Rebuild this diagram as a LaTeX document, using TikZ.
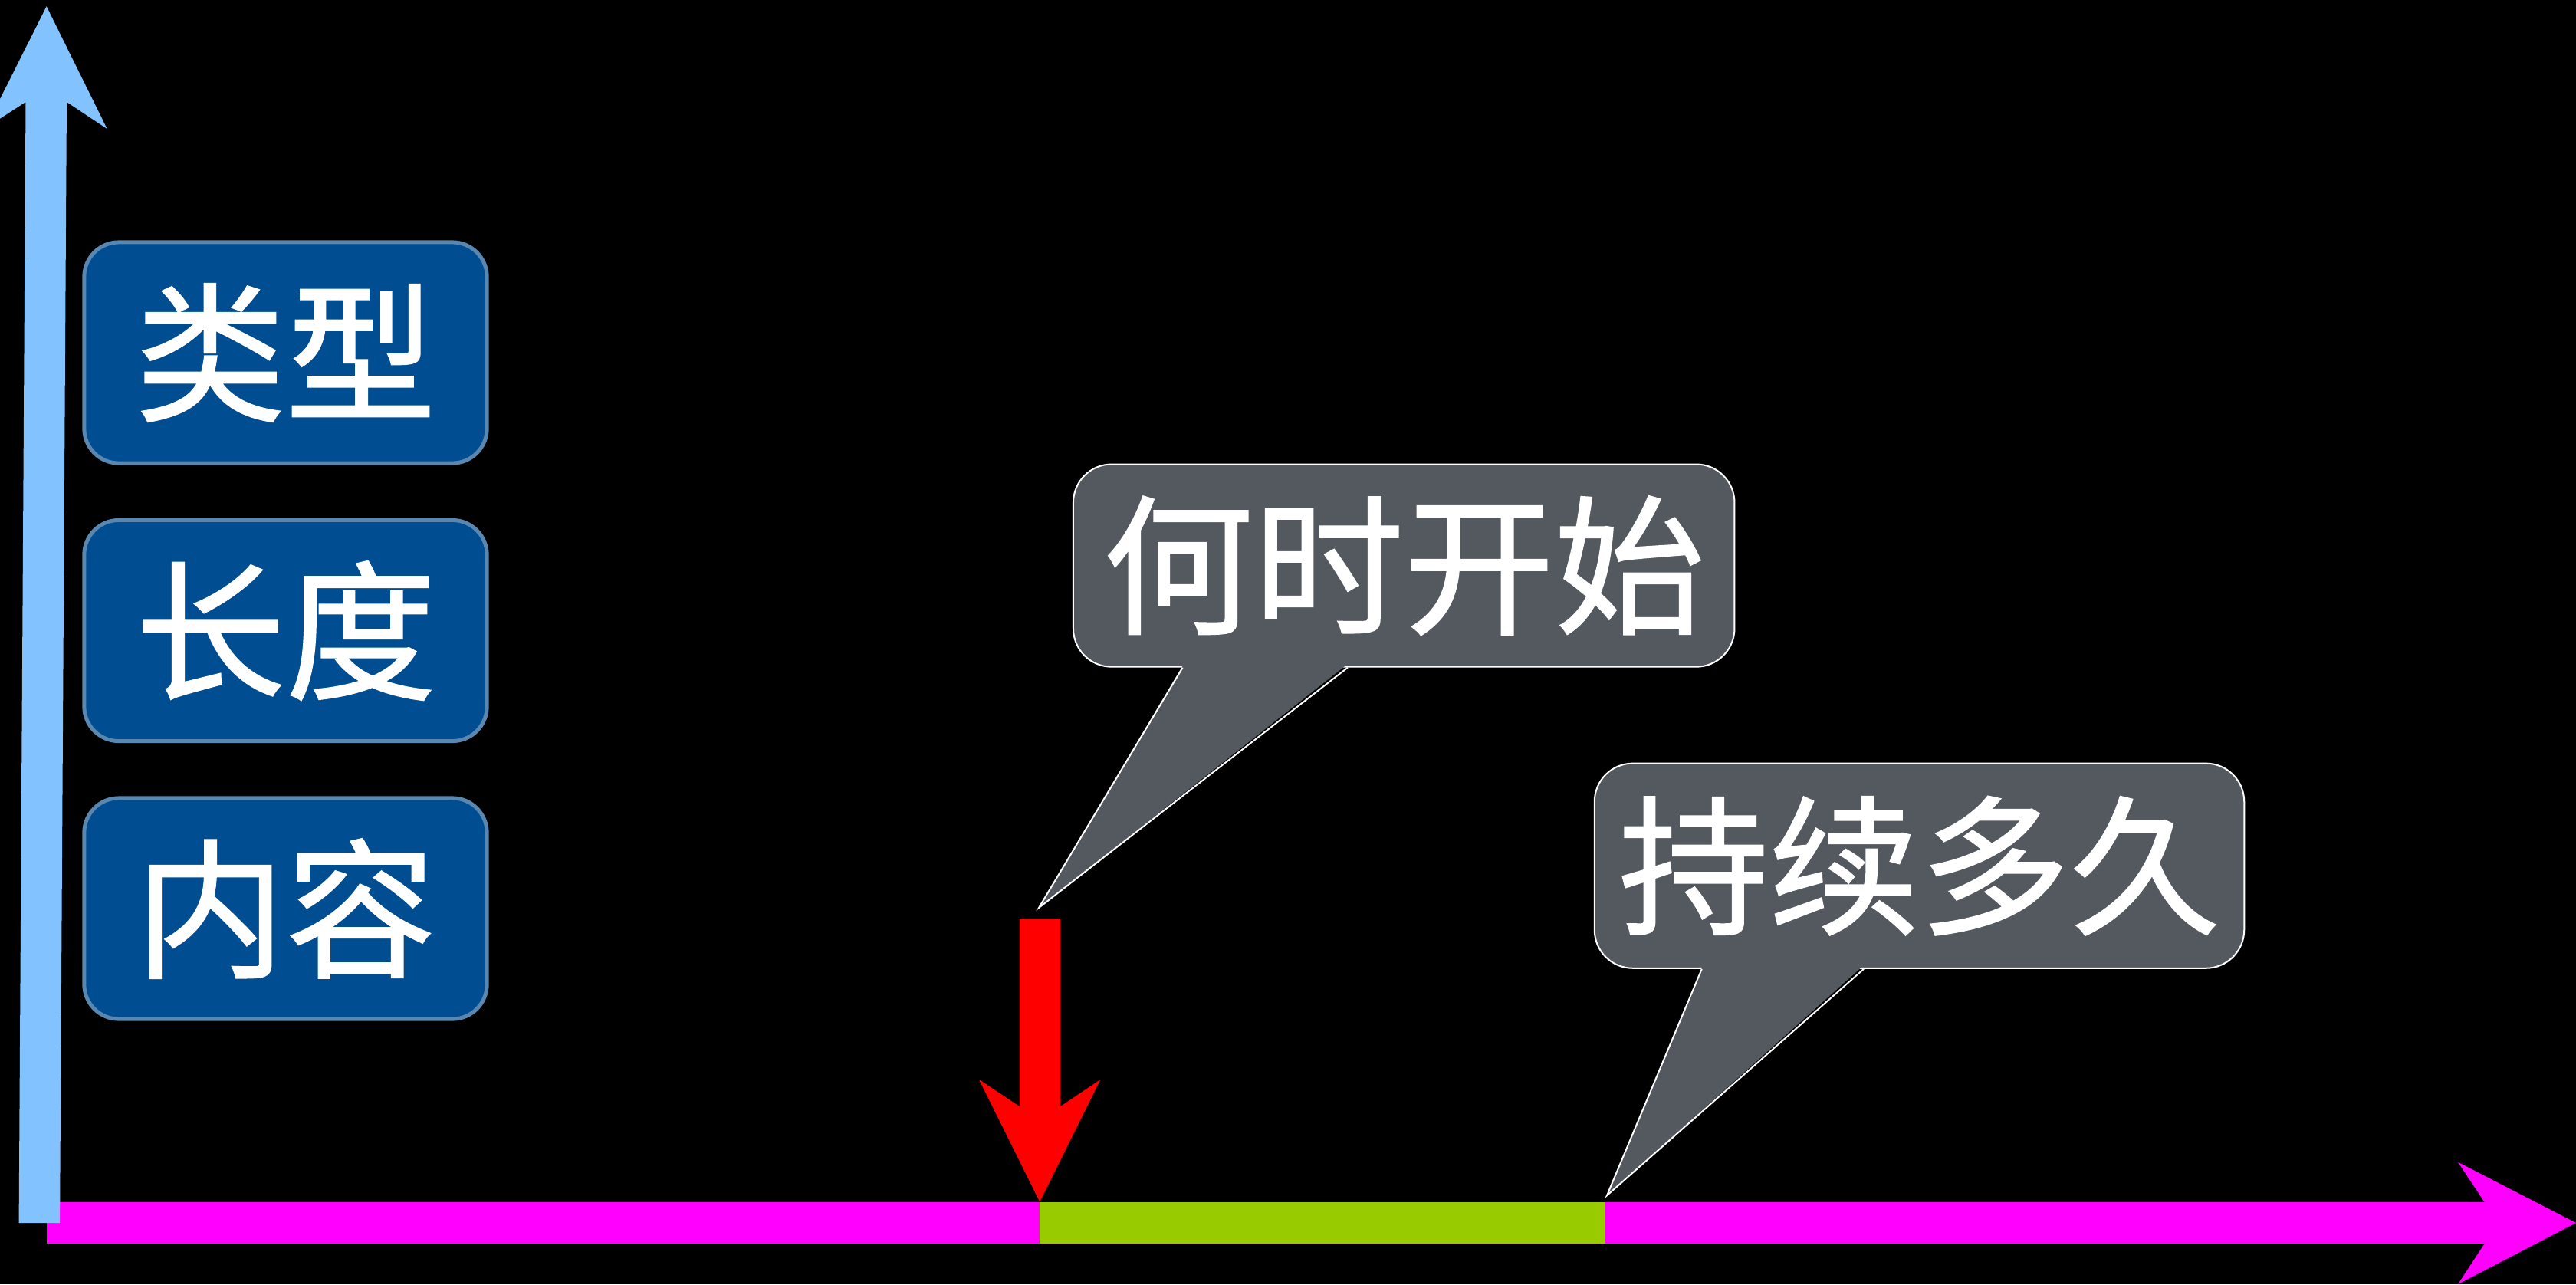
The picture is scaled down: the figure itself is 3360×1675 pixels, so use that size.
\documentclass[tikz,border=0pt]{standalone}
\usepackage{fontspec}
\newfontfamily\cjk[FakeBold=1]{Noto Sans CJK SC}
\usetikzlibrary{calc}
\definecolor{axisblue}{RGB}{130,195,255}
\definecolor{boxblue}{RGB}{0,78,145}
\definecolor{boxedge}{RGB}{90,135,175}
\definecolor{callgray}{RGB}{84,89,96}
\definecolor{barmag}{RGB}{255,0,255}
\definecolor{bargreen}{RGB}{153,204,0}
\definecolor{arrowred}{RGB}{255,0,0}
\begin{document}
\begin{tikzpicture}[x=0.01cm,y=-0.01cm,
  labeltext/.style={text=white,font=\cjk\fontsize{55.8pt}{60pt}\selectfont,inner sep=0pt},
  bluebox/.style={labeltext,fill=boxblue,draw=boxedge,line width=0.05cm,rounded corners=0.45cm,minimum width=5.25cm,minimum height=2.88cm},
  callbox/.style={labeltext,fill=callgray,draw=white,line width=0.02cm,rounded corners=0.5cm},
  pointerfill/.style={fill=callgray},
  pointeredge/.style={draw=white,line width=0.02cm,line join=miter}
]
\useasboundingbox[fill=black] (0,0) rectangle (3360,1675);

% horizontal time axis (magenta block arrow)
\coordinate (hstart) at (61,1595);
\coordinate (htip) at (3360,1595);
\fill[barmag] (61,1568) -- (3240.7,1568) -- (3206,1515.7) -- (htip) -- (3206,1675) -- (3240.7,1622) -- (61,1622) -- cycle;

% green duration segment
\fill[bargreen] (1356.2,1567.5) rectangle (2093.9,1621.5);

% vertical axis (light blue block arrow)
\coordinate (vtip) at (60.7,8.3);
\fill[axisblue] (24.6,1595) -- (78.1,1595) -- (87,133) -- (139.7,168) -- (vtip) -- (-19,167) -- (33.5,133) -- cycle;

% red start arrow
\coordinate (rtip) at (1356.2,1567.5);
\fill[arrowred] (1329.8,1198.3) -- (1383.2,1198.3) -- (1383.2,1443) -- (1435.4,1408) -- (rtip) -- (1277,1408) -- (1329.8,1443) -- cycle;

% blue label boxes
\node[bluebox] (type) at (372.5,460) {类型};
\node[bluebox] (length) at (372.5,822.5) {长度};
\node[bluebox] (content) at (372.5,1185) {内容};

% callout 1
\node[callbox,minimum width=8.62cm,minimum height=2.64cm] (start) at (1831.2,737.6) {何时开始};
\coordinate (starttip) at (1355,1184);
\coordinate (s1) at ($(start.south west)+(143.6,0)$);
\coordinate (s2) at ($(start.south west)+(358.9,0)$);
\fill[pointerfill] ($(s1)+(1,-4)$) -- (starttip) -- ($(s2)+(-1,-4)$) -- cycle;
\draw[pointeredge] (s1) -- (starttip) -- (s2);

% callout 2
\node[callbox,minimum width=8.47cm,minimum height=2.67cm] (dur) at (2503.5,1129.2) {持续多久};
\coordinate (durtip) at (2096,1559.2);
\coordinate (d1) at ($(dur.south west)+(141,0)$);
\coordinate (d2) at ($(dur.south west)+(352.3,0)$);
\fill[pointerfill] ($(d1)+(1,-4)$) -- (durtip) -- ($(d2)+(-1,-4)$) -- cycle;
\draw[pointeredge] (d1) -- (durtip) -- (d2);
\end{tikzpicture}
\end{document}
